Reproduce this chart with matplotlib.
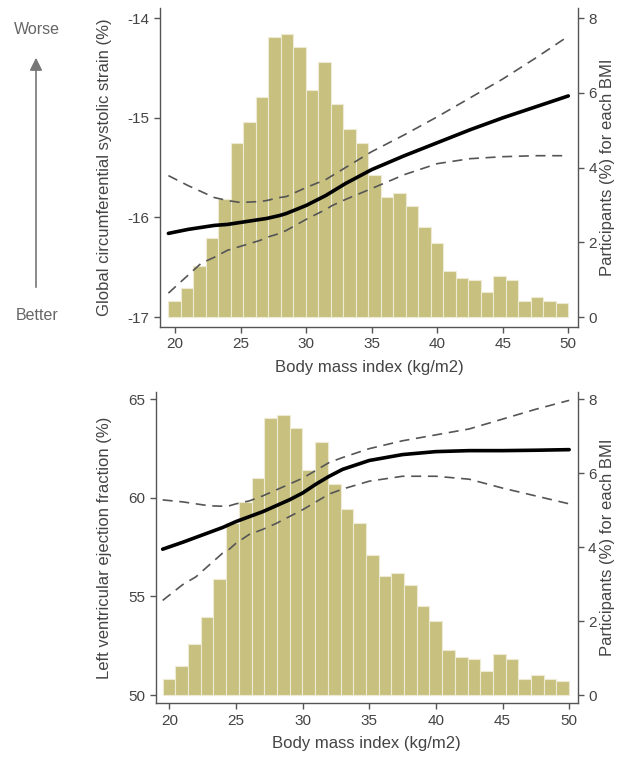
import numpy as np
import matplotlib
matplotlib.use("Agg")
import matplotlib.pyplot as plt

plt.rcParams['font.family'] = ['Liberation Sans', 'DejaVu Sans']
plt.rcParams['axes.unicode_minus'] = False

# Histogram of participants by BMI (shared by both panels)
bmi_min, bmi_max = 19.5, 50.0
participants_pct = [0.43, 0.79, 1.37, 2.12, 3.15, 4.66, 5.22, 5.88, 7.50, 7.57,
                    7.22, 6.08, 6.84, 5.71, 5.04, 4.66, 3.79, 3.22, 3.31, 2.97,
                    2.40, 1.99, 1.22, 1.04, 0.98, 0.66, 1.10, 0.98, 0.43, 0.53,
                    0.43, 0.37]

# Global circumferential systolic strain vs BMI
gcs_bmi = [19.5, 21, 22, 23, 24, 25, 26.5, 27, 28, 28.5, 30, 31.5, 32, 33, 35, 37.5,
           40, 42.5, 45, 47.5, 50]
gcs_mean = [-16.16, -16.12, -16.10, -16.08, -16.07, -16.05, -16.02, -16.01, -15.98,
            -15.96, -15.88, -15.78, -15.74, -15.66, -15.52, -15.38, -15.25, -15.12,
            -15.00, -14.89, -14.78]
gcs_upper = [-15.58, -15.68, -15.74, -15.80, -15.83, -15.85, -15.84, -15.83, -15.80,
             -15.79, -15.70, -15.62, -15.58, -15.50, -15.34, -15.17, -14.99, -14.80,
             -14.61, -14.40, -14.18]
gcs_lower = [-16.76, -16.58, -16.46, -16.40, -16.33, -16.29, -16.23, -16.20, -16.16,
             -16.13, -16.02, -15.92, -15.88, -15.82, -15.71, -15.57, -15.46, -15.41,
             -15.39, -15.38, -15.38]

# Left ventricular ejection fraction vs BMI
lvef_bmi = [19.5, 21, 22, 23, 24, 24.5, 25, 26, 27, 28, 29, 30, 31, 32, 33, 35, 37.5,
            40, 42.5, 45, 47.5, 50]
lvef_mean = [57.40, 57.75, 58.00, 58.25, 58.50, 58.65, 58.80, 59.05, 59.30, 59.60,
             59.90, 60.25, 60.70, 61.10, 61.45, 61.90, 62.20, 62.35, 62.40, 62.40,
             62.42, 62.45]
lvef_upper = [59.90, 59.80, 59.70, 59.60, 59.58, 59.60, 59.70, 59.85, 60.10, 60.40,
              60.70, 61.00, 61.40, 61.80, 62.05, 62.50, 62.90, 63.20, 63.50, 64.00,
              64.50, 64.95]
lvef_lower = [54.80, 55.60, 56.00, 56.60, 57.20, 57.40, 57.70, 58.15, 58.40, 58.70,
              59.05, 59.40, 59.80, 60.20, 60.45, 60.85, 61.10, 61.10, 60.95, 60.50,
              60.10, 59.70]

bar_color = '#c8c07f'
axis_gray = '#555555'
text_gray = '#444444'
tick_fs = 11
label_fs = 12

fig = plt.figure(figsize=(6.17, 7.57), dpi=100)

edges = np.linspace(bmi_min, bmi_max, len(participants_pct) + 1)


def panel(rect, x, mean, upper, lower, ylim, yticks, ylabel, xlim, to_pct):
    ax = fig.add_axes(rect)
    ax2 = ax.twinx()
    ax2.bar(edges[:-1], participants_pct, width=np.diff(edges), align='edge',
            color=bar_color, edgecolor='#eeebd5', linewidth=0.8)
    ax.plot(x, upper, color='#555555', lw=1.2, dashes=(6, 4))
    ax.plot(x, lower, color='#555555', lw=1.2, dashes=(6, 4))
    ax.plot(x, mean, color='black', lw=2.6, solid_capstyle='round')
    ax.set_zorder(ax2.get_zorder() + 1)
    ax.patch.set_visible(False)

    ax.set_xlim(*xlim)
    ax.set_ylim(*ylim)
    ax2.set_ylim(to_pct(ylim[0]), to_pct(ylim[1]))
    ax.set_xticks([20, 25, 30, 35, 40, 45, 50])
    ax.set_yticks(yticks)
    ax2.set_yticks([0, 2, 4, 6, 8])

    for a in (ax, ax2):
        a.spines['top'].set_visible(False)
        for s in ('left', 'right', 'bottom'):
            a.spines[s].set_color(axis_gray)
            a.spines[s].set_linewidth(1.0)
        a.tick_params(colors=axis_gray, labelcolor=text_gray, labelsize=tick_fs,
                      length=4, width=1, direction='out')
    ax.spines['right'].set_visible(False)
    ax2.spines['left'].set_visible(False)
    ax2.spines['bottom'].set_visible(False)

    ax.set_xlabel('Body mass index (kg/m2)', fontsize=label_fs, color=text_gray)
    ax.set_ylabel(ylabel, fontsize=label_fs, color=text_gray)
    ax2.set_ylabel('Participants (%) for each BMI', fontsize=label_fs, color=text_gray)
    return ax, ax2


ax, ax2 = panel([160 / 617, 1 - 327 / 757, 418 / 617, 318.7 / 757],
                gcs_bmi, gcs_mean, gcs_upper, gcs_lower,
                (-17.1, -13.9), [-17, -16, -15, -14],
                'Global circumferential systolic strain (%)',
                (18.86, 50.74), lambda v: (v + 17) * 8 / 3)
ax.yaxis.set_label_coords(-0.115, 0.5)
ax2.yaxis.set_label_coords(1.053, 0.5)
ax.xaxis.set_label_coords(0.5, -0.104)

bx, bx2 = panel([156 / 617, 1 - 703.3 / 757, 421.7 / 617, 311.6 / 757],
                lvef_bmi, lvef_mean, lvef_upper, lvef_lower,
                (49.58, 65.39), [50, 55, 60, 65],
                'Left ventricular ejection fraction (%)',
                (19.0, 50.64), lambda v: (v - 50) * 8 / 15)
bx.yaxis.set_label_coords(-0.104, 0.5)
bx2.yaxis.set_label_coords(1.053, 0.5)
bx.xaxis.set_label_coords(0.5, -0.105)

# Worse / Better guide
fig.text(37 / 617, 1 - 30 / 757, 'Worse', ha='center', va='center',
         fontsize=11.5, color='#666666')
fig.text(37 / 617, 1 - 315 / 757, 'Better', ha='center', va='center',
         fontsize=11.5, color='#666666')
fig.add_artist(matplotlib.patches.FancyArrowPatch(
    (36 / 617, 1 - 290 / 757), (36 / 617, 1 - 55 / 757),
    transform=fig.transFigure, arrowstyle='-|>,head_length=5,head_width=2.5',
    color='#777777', lw=1.2, mutation_scale=1.5))

fig.savefig('out.png', dpi=100)
